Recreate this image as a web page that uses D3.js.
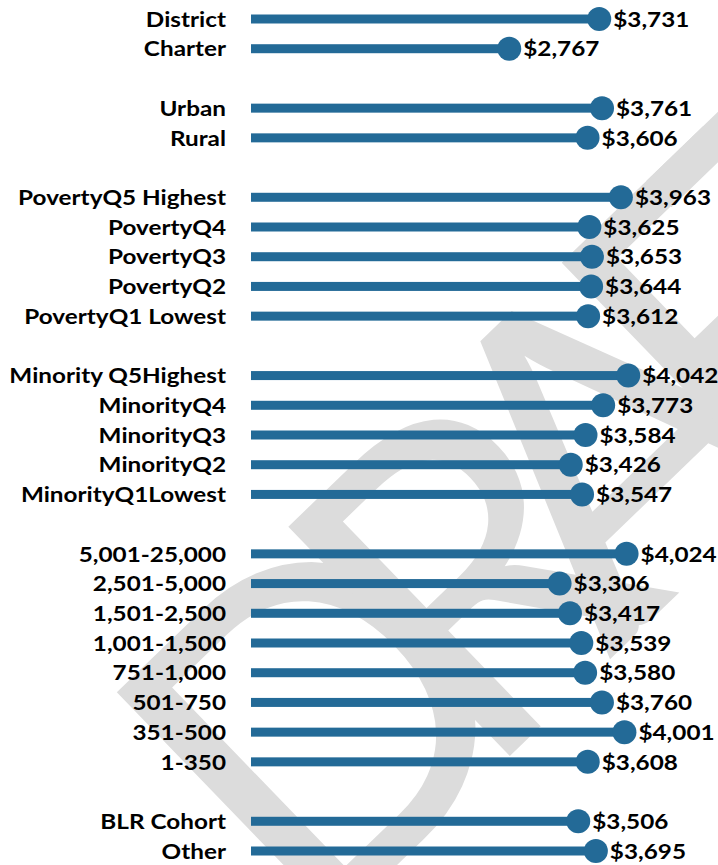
<!DOCTYPE html>
<html>
<head>
<meta charset="utf-8">
<script src="https://cdn.jsdelivr.net/npm/d3@7/dist/d3.min.js"></script>
<style>
  html, body { margin: 0; padding: 0; background: #ffffff; }
  svg { display: block; }
</style>
</head>
<body>
<script>
const categories = ["District","Charter","Urban","Rural","PovertyQ5 Highest","PovertyQ4","PovertyQ3","PovertyQ2","PovertyQ1 Lowest","Minority Q5Highest","MinorityQ4","MinorityQ3","MinorityQ2","MinorityQ1Lowest","5,001-25,000","2,501-5,000","1,501-2,500","1,001-1,500","751-1,000","501-750","351-500","1-350","BLR Cohort","Other"];
const values = [3731,2767,3761,3606,3963,3625,3653,3644,3612,4042,3773,3584,3426,3547,4024,3306,3417,3539,3580,3760,4001,3608,3506,3695];
const groupIndex = [0,0,1,1,2,2,2,2,2,3,3,3,3,3,4,4,4,4,4,4,4,4,5,5];
const watermarkText = "DRAFT";

const W = 718, H = 865;
const color = "#236a97";

const svg = d3.select("body").append("svg").attr("width", W).attr("height", H);

// watermark
svg.append("text")
  .attr("transform", "translate(309,950) rotate(-44)")
  .attr("text-anchor", "start")
  .style("font-family", "Lato, sans-serif")
  .style("font-weight", "normal")
  .style("font-size", "445px")
  .style("letter-spacing", "-100px")
  .style("fill", "#dcdcdc")
  .text(watermarkText);

const slots = categories.map((c, i) => i + groupIndex[i]);
const y = d3.scaleLinear().domain([0, 28]).range([19, 851]);
const x = d3.scaleLinear().domain([0, 4500]).range([251, 671]);
const fmt = d3.format("$,.0f");

const data = categories.map((c, i) => ({ cat: c, val: values[i], slot: slots[i] }));

const g = svg.append("g");

g.selectAll("rect.bar").data(data).enter().append("rect")
  .attr("class", "bar")
  .attr("x", x(0))
  .attr("y", d => y(d.slot) - 4.5)
  .attr("width", d => x(d.val) - x(0))
  .attr("height", 9)
  .attr("fill", color);

g.selectAll("circle.dot").data(data).enter().append("circle")
  .attr("class", "dot")
  .attr("cx", d => x(d.val))
  .attr("cy", d => y(d.slot))
  .attr("r", 12)
  .attr("fill", color);

const fontFam = "Lato, 'Open Sans', sans-serif";
const sx = 1.13;

g.selectAll("text.cat").data(data).enter().append("text")
  .attr("class", "cat")
  .attr("transform", d => `translate(226,${y(d.slot)}) scale(${sx},1)`)
  .attr("dy", "0.36em")
  .attr("text-anchor", "end")
  .style("font-family", fontFam)
  .style("font-weight", "bold")
  .style("font-size", "21.5px")
  .style("fill", "#000")
  .text(d => d.cat);

g.selectAll("text.val").data(data).enter().append("text")
  .attr("class", "val")
  .attr("transform", d => `translate(${x(d.val) + 14},${y(d.slot)}) scale(${sx},1)`)
  .attr("dy", "0.36em")
  .style("font-family", fontFam)
  .style("font-weight", "bold")
  .style("font-size", "21.5px")
  .style("fill", "#000")
  .text(d => fmt(d.val));
</script>
</body>
</html>
